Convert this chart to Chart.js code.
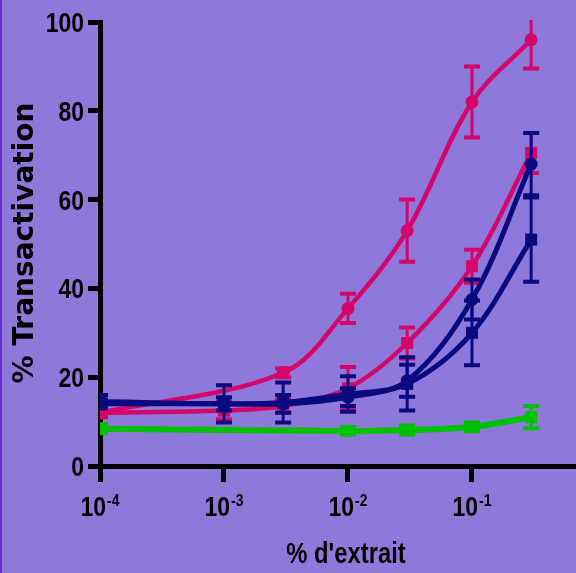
<!DOCTYPE html>
<html>
<head>
<meta charset="utf-8">
<title>% Transactivation</title>
<script src="https://cdn.jsdelivr.net/npm/chart.js@4/dist/chart.umd.min.js"></script>
<style>
  html, body { margin: 0; padding: 0; background: #8e78da; }
  canvas { display: block; }
</style>
</head>
<body>
<canvas id="chart" width="576" height="573"></canvas>
<script>
'use strict';

/* ─── Data ──────────────────────────────────────────────────── */
const conc        = [1e-4, 1e-3, 3e-3, 1e-2, 3e-2, 1e-1, 3e-1];
const xTickValues = [1e-4, 1e-3, 1e-2, 1e-1];
const xTickExp    = ['-4', '-3', '-2', '-1'];

const pinkCircle     = [12, null, 21, 35.5, 53, 82, 96];
const pinkCircleErr  = [1, 0, 1, 3.3, 7, 8, 6.5];
const pinkSquare     = [12, 12.5, 13.5, 17.5, 27.7, 45, 70.5];
const pinkSquareErr  = [1, 2, 1.5, 4.8, 3.5, 3.7, 4.5];
const navyCircle     = [14, 14, 14, 15.5, 19.2, 37.5, 68];
const navyCircleErr  = [1, 1.5, 2, 2, 3.6, 4.5, 7];
const navySquare     = [14.5, 14, 14.3, 16.2, 18.5, 30, 51];
const navySquareErr  = [1.5, 4.2, 4.5, 4, 6, 7.3, 9.5];
const green          = [8.4, null, null, 7.9, 8.1, 8.8, 11];
const greenErr       = [1, 0, 0, 0.8, 1, 1, 2.5];

/* ─── Styles ────────────────────────────────────────────────── */
const PINK  = '#d4066a';
const NAVY  = '#0a0a80';
const GREEN = '#00c000';
const SANS  = "'Liberation Sans', Arial, sans-serif";
const NARROW_SCALE = 0.82;   // Arial Narrow look from Liberation Sans Bold

function pts(values) {
  return conc.map((c, i) => ({ x: c, y: values[i] }));
}

function series(label, values, errors, color, style, width, order) {
  return {
    label,
    data: pts(values),
    errors,
    borderColor: color,
    backgroundColor: color,
    borderWidth: width,
    pointStyle: style,
    pointRadius: style === 'rect' ? 8.5 : 6.5,
    pointBorderWidth: 0,
    tension: 0.35,
    spanGaps: true,
    order,
  };
}

/* draws condensed bold text, x is the anchor for align */
function narrowText(ctx, text, x, y, size, align) {
  ctx.save();
  ctx.font = `bold ${size}px ${SANS}`;
  const w = ctx.measureText(text).width * NARROW_SCALE;
  let left = x;
  if (align === 'center') left = x - w / 2;
  if (align === 'right') left = x - w;
  ctx.translate(left, y);
  ctx.scale(NARROW_SCALE, 1);
  ctx.textAlign = 'left';
  ctx.fillText(text, 0, 0);
  ctx.restore();
  return w;
}

function narrowWidth(ctx, text, size) {
  ctx.save();
  ctx.font = `bold ${size}px ${SANS}`;
  const w = ctx.measureText(text).width * NARROW_SCALE;
  ctx.restore();
  return w;
}

/* ─── Plugins ───────────────────────────────────────────────── */
const background = {
  id: 'background',
  beforeDraw(chart) {
    const { ctx, width, height } = chart;
    ctx.save();
    ctx.fillStyle = '#8e78da';
    ctx.fillRect(0, 0, width, height);
    ctx.fillStyle = '#6a30cc';
    ctx.fillRect(0, 0, 2, height);
    ctx.restore();
  },
};

const errorBars = {
  id: 'errorBars',
  afterDatasetDraw(chart, args) {
    const ds = chart.data.datasets[args.index];
    if (!ds.errors) return;
    const { ctx, chartArea: a, scales: { x, y } } = chart;
    ctx.save();
    ctx.beginPath();
    ctx.rect(a.left, a.top - 2, a.right - a.left, a.bottom - a.top + 4);
    ctx.clip();
    ctx.strokeStyle = ds.borderColor;
    ds.data.forEach((p, i) => {
      const e = ds.errors[i];
      if (p.y == null || !e) return;
      const px = x.getPixelForValue(p.x);
      const top = y.getPixelForValue(p.y + e);
      const bot = y.getPixelForValue(p.y - e);
      ctx.lineWidth = 3;
      ctx.beginPath();
      ctx.moveTo(px, top);
      ctx.lineTo(px, bot);
      ctx.stroke();
      ctx.lineWidth = 4;
      ctx.beginPath();
      ctx.moveTo(px - 8, top); ctx.lineTo(px + 8, top);
      ctx.moveTo(px - 8, bot); ctx.lineTo(px + 8, bot);
      ctx.stroke();
    });
    ctx.restore();
  },
};

const axisText = {
  id: 'axisText',
  afterDraw(chart) {
    const { ctx, scales: { x, y } } = chart;
    ctx.save();
    ctx.fillStyle = '#000';
    ctx.textBaseline = 'alphabetic';

    /* x ticks: 10 with superscript exponent */
    xTickValues.forEach((v, i) => {
      const px = x.getPixelForValue(v);
      const wBase = narrowWidth(ctx, '10', 28);
      const wExp = narrowWidth(ctx, xTickExp[i], 17);
      const left = px - (wBase + wExp + 1) / 2;
      narrowText(ctx, '10', left, 516, 28, 'left');
      narrowText(ctx, xTickExp[i], left + wBase + 1, 506, 17, 'left');
    });

    /* y ticks */
    y.ticks.forEach(t => {
      const py = y.getPixelForValue(t.value);
      narrowText(ctx, String(t.value), 84, py + 10, 28, 'right');
    });

    /* x title */
    narrowText(ctx, "% d'extrait", 346, 563, 29, 'center');

    /* y title */
    ctx.save();
    ctx.translate(33, 243);
    ctx.rotate(-Math.PI / 2);
    ctx.font = "bold 28px 'DejaVu Sans', Verdana, sans-serif";
    ctx.textAlign = 'center';
    ctx.fillText('% Transactivation', 0, 0);
    ctx.restore();

    ctx.restore();
  },
};

/* ─── Chart ─────────────────────────────────────────────────── */
new Chart(document.getElementById('chart'), {
  type: 'line',
  data: {
    datasets: [
      series('navy squares', navySquare, navySquareErr, NAVY, 'rect', 5, 1),
      series('navy circles', navyCircle, navyCircleErr, NAVY, 'circle', 5, 2),
      series('pink squares', pinkSquare, pinkSquareErr, PINK, 'rect', 4.5, 3),
      series('pink circles', pinkCircle, pinkCircleErr, PINK, 'circle', 4.5, 4),
      series('green', green, greenErr, GREEN, 'rect', 6, 5),
    ],
  },
  options: {
    responsive: false,
    animation: false,
    layout: { autoPadding: false, padding: { top: 22, right: 0, left: 0, bottom: 0 } },
    plugins: {
      legend: { display: false },
      tooltip: { enabled: false },
    },
    scales: {
      x: {
        type: 'logarithmic',
        min: 1e-4,
        max: 0.69,
        afterBuildTicks: s => { s.ticks = xTickValues.map(v => ({ value: v })); },
        afterFit: s => { s.height = 107; s.paddingLeft = 0; s.paddingRight = 0; },
        ticks: { callback: () => '' },
        grid: { drawOnChartArea: false, drawTicks: true, tickLength: 16, lineWidth: 5, color: '#000' },
        border: { display: true, width: 5, color: '#000' },
      },
      y: {
        min: 0,
        max: 100,
        afterFit: s => { s.width = 100; s.paddingTop = 0; s.paddingBottom = 0; },
        ticks: { stepSize: 20, callback: () => '' },
        grid: { drawOnChartArea: false, drawTicks: true, tickLength: 12, lineWidth: 5, color: '#000' },
        border: { display: true, width: 5, color: '#000' },
      },
    },
  },
  plugins: [background, errorBars, axisText],
});
</script>
</body>
</html>
